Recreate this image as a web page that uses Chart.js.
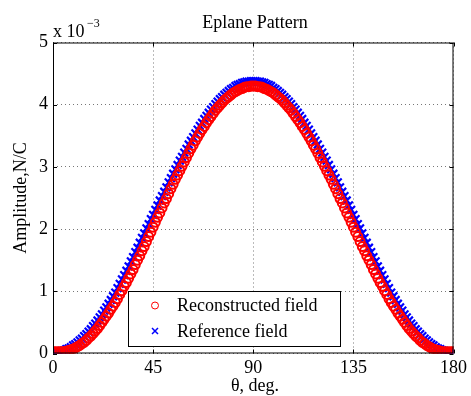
<!DOCTYPE html>
<html>
<head>
<meta charset="utf-8">
<script src="https://cdn.jsdelivr.net/npm/chart.js@4.4.1/dist/chart.umd.min.js"></script>
<style>
    html, body { margin: 0; padding: 0; background: #fff; }
    canvas { display: block; }
</style>
</head>
<body>
<canvas id="eplane-chart" width="471" height="396"></canvas>
<script>
// theta in degrees, amplitude in units of 10^-3 N/C
const THETA = [
    0,1,2,3,4,5,6,7,8,9,10,11,12,13,14,15,16,17,18,19,20,21,22,23,24,25,26,27,28,29,
    30,31,32,33,34,35,36,37,38,39,40,41,42,43,44,45,46,47,48,49,50,51,52,53,54,55,56,57,58,59,
    60,61,62,63,64,65,66,67,68,69,70,71,72,73,74,75,76,77,78,79,80,81,82,83,84,85,86,87,88,89,
    90,91,92,93,94,95,96,97,98,99,100,101,102,103,104,105,106,107,108,109,110,111,112,113,114,115,116,117,118,119,
    120,121,122,123,124,125,126,127,128,129,130,131,132,133,134,135,136,137,138,139,140,141,142,143,144,145,146,147,148,149,
    150,151,152,153,154,155,156,157,158,159,160,161,162,163,164,165,166,167,168,169,170,171,172,173,174,175,176,177,178,179,180
];

const RECONSTRUCTED = [
    0.03,0.03,0.03,0.03,0.03,0.03,0.04,0.05,0.06,0.07,
    0.09,0.11,0.13,0.16,0.18,0.21,0.25,0.28,0.32,0.36,
    0.40,0.45,0.50,0.55,0.60,0.65,0.71,0.76,0.82,0.88,
    0.95,1.01,1.08,1.14,1.21,1.28,1.35,1.43,1.50,1.57,
    1.65,1.72,1.80,1.88,1.95,2.03,2.11,2.19,2.26,2.34,
    2.42,2.49,2.57,2.65,2.72,2.80,2.87,2.94,3.01,3.08,
    3.15,3.22,3.29,3.35,3.42,3.48,3.54,3.60,3.65,3.71,
    3.76,3.81,3.86,3.91,3.95,3.99,4.03,4.07,4.10,4.13,
    4.16,4.19,4.21,4.23,4.25,4.26,4.28,4.29,4.29,4.30,
    4.30,
    4.30,4.29,4.29,4.28,4.26,4.25,4.23,4.21,4.19,4.16,
    4.13,4.10,4.07,4.03,3.99,3.95,3.91,3.86,3.81,3.76,
    3.71,3.65,3.60,3.54,3.48,3.42,3.35,3.29,3.22,3.15,
    3.08,3.01,2.94,2.87,2.80,2.72,2.65,2.57,2.49,2.42,
    2.34,2.26,2.19,2.11,2.03,1.95,1.88,1.80,1.72,1.65,
    1.57,1.50,1.43,1.35,1.28,1.21,1.14,1.08,1.01,0.95,
    0.88,0.82,0.76,0.71,0.65,0.60,0.55,0.50,0.45,0.40,
    0.36,0.32,0.28,0.25,0.21,0.18,0.16,0.13,0.11,0.09,
    0.07,0.06,0.05,0.04,0.03,0.03,0.03,0.03,0.03,0.03
];

const REFERENCE = [
    0.02,0.02,0.03,0.03,0.04,0.05,0.07,0.08,0.10,0.13,
    0.15,0.18,0.21,0.24,0.28,0.31,0.35,0.39,0.44,0.48,
    0.53,0.58,0.63,0.69,0.74,0.80,0.86,0.92,0.98,1.05,
    1.12,1.19,1.26,1.33,1.40,1.48,1.55,1.63,1.70,1.78,
    1.86,1.93,2.01,2.08,2.16,2.23,2.31,2.38,2.46,2.53,
    2.60,2.67,2.75,2.82,2.89,2.96,3.03,3.10,3.16,3.23,
    3.29,3.36,3.42,3.48,3.54,3.60,3.66,3.71,3.77,3.82,
    3.87,3.92,3.96,4.01,4.05,4.09,4.12,4.16,4.19,4.22,
    4.25,4.27,4.30,4.32,4.33,4.35,4.36,4.37,4.37,4.38,
    4.38,
    4.38,4.37,4.37,4.36,4.35,4.33,4.32,4.30,4.27,4.25,
    4.22,4.19,4.16,4.12,4.09,4.05,4.01,3.96,3.92,3.87,
    3.82,3.77,3.71,3.66,3.60,3.54,3.48,3.42,3.36,3.29,
    3.23,3.16,3.10,3.03,2.96,2.89,2.82,2.75,2.67,2.60,
    2.53,2.46,2.38,2.31,2.23,2.16,2.08,2.01,1.93,1.86,
    1.78,1.70,1.63,1.55,1.48,1.40,1.33,1.26,1.19,1.12,
    1.05,0.98,0.92,0.86,0.80,0.74,0.69,0.63,0.58,0.53,
    0.48,0.44,0.39,0.35,0.31,0.28,0.24,0.21,0.18,0.15,
    0.13,0.10,0.08,0.07,0.05,0.04,0.03,0.03,0.02,0.02
];

const X_TICKS = [0, 45, 90, 135, 180];
const Y_TICKS = [0, 1, 2, 3, 4, 5];

const FONT = '"Liberation Serif", "Times New Roman", serif';

Chart.defaults.font.family = FONT;
Chart.defaults.font.size = 18;
Chart.defaults.color = '#000';

// MATLAB style extras: boxed axes, inward ticks, texts, legend inside the axes
const matlabLook = {
    id: 'matlabLook',
    afterDraw(chart) {
        const { ctx, chartArea: a, scales } = chart;
        ctx.save();

        ctx.strokeStyle = '#000';
        ctx.lineWidth = 1;
        ctx.strokeRect(a.left + 0.5, a.top + 0.5, a.right - a.left - 1, a.bottom - a.top - 1);

        const tl = 4;
        ctx.beginPath();
        X_TICKS.forEach(v => {
            const x = Math.round(scales.x.getPixelForValue(v)) + 0.5;
            ctx.moveTo(x, a.bottom); ctx.lineTo(x, a.bottom - tl);
            ctx.moveTo(x, a.top); ctx.lineTo(x, a.top + tl);
        });
        Y_TICKS.forEach(v => {
            const y = Math.round(scales.y.getPixelForValue(v)) + 0.5;
            ctx.moveTo(a.left, y); ctx.lineTo(a.left + tl, y);
            ctx.moveTo(a.right, y); ctx.lineTo(a.right - tl, y);
        });
        ctx.stroke();

        ctx.fillStyle = '#000';
        ctx.textBaseline = 'alphabetic';

        ctx.font = '18px ' + FONT;
        ctx.textAlign = 'center';
        ctx.fillText('Eplane Pattern', 255, 28);
        ctx.fillText('θ, deg.', 255, 391);

        ctx.textAlign = 'left';
        ctx.fillText('x 10', 53, 37);
        ctx.font = '12px ' + FONT;
        ctx.fillText('\u22123', 87, 27);

        ctx.save();
        ctx.font = '18px ' + FONT;
        ctx.translate(26, (a.top + a.bottom) / 2);
        ctx.rotate(-Math.PI / 2);
        ctx.textAlign = 'center';
        ctx.fillText('Amplitude,N/C', 0, 0);
        ctx.restore();

        // legend
        const box = { x: 128.5, y: 291.5, w: 212, h: 55 };
        ctx.fillStyle = '#fff';
        ctx.fillRect(box.x, box.y, box.w, box.h);
        ctx.strokeStyle = '#000';
        ctx.lineWidth = 1;
        ctx.strokeRect(box.x, box.y, box.w, box.h);
        const rows = [305.5, 331];
        chart.data.datasets.forEach((ds, i) => {
            const y = rows[i];
            ctx.strokeStyle = ds.borderColor;
            ctx.lineWidth = ds.pointStyle === 'circle' ? 1 : 1.5;
            ctx.beginPath();
            if (ds.pointStyle === 'circle') {
                ctx.arc(155, y, 3.5, 0, Math.PI * 2);
            } else {
                const r = 3;
                ctx.moveTo(155 - r, y - r); ctx.lineTo(155 + r, y + r);
                ctx.moveTo(155 - r, y + r); ctx.lineTo(155 + r, y - r);
            }
            ctx.stroke();
            ctx.fillStyle = '#000';
            ctx.font = '18px ' + FONT;
            ctx.textAlign = 'left';
            ctx.textBaseline = 'middle';
            ctx.fillText(ds.label, 177, y + 1);
        });

        ctx.restore();
    }
};

const toPoints = values => THETA.map((t, i) => ({ x: t, y: values[i] }));

new Chart(document.getElementById('eplane-chart'), {
    type: 'scatter',
    data: {
        datasets: [
            {
                label: 'Reconstructed field',
                data: toPoints(RECONSTRUCTED),
                pointStyle: 'circle',
                pointRadius: 4.5,
                borderWidth: 2,
                borderColor: '#ff0000',
                backgroundColor: 'rgba(0,0,0,0)',
            },
            {
                label: 'Reference field',
                data: toPoints(REFERENCE),
                pointStyle: 'crossRot',
                pointRadius: 5.5,
                borderWidth: 2.2,
                borderColor: '#0000ff',
                backgroundColor: '#0000ff',
            },
        ]
    },
    options: {
        responsive: false,
        animation: false,
        devicePixelRatio: 1,
        layout: { padding: { top: 42.5, right: 14.5, left: 0, bottom: 0 } },
        plugins: { legend: { display: false }, tooltip: { enabled: false } },
        scales: {
            x: {
                type: 'linear',
                min: 0, max: 180,
                afterBuildTicks: s => { s.ticks = X_TICKS.map(v => ({ value: v })); },
                afterFit: s => { s.height = 42.5; },
                ticks: { padding: 4, maxRotation: 0, font: { size: 18 } },
                grid: { drawTicks: false, color: '#777', lineWidth: 1 },
                border: { display: false, dash: [1, 3] },
            },
            y: {
                min: 0, max: 5,
                afterBuildTicks: s => { s.ticks = Y_TICKS.map(v => ({ value: v })); },
                afterFit: s => { s.width = 53; },
                ticks: { padding: 5, font: { size: 18 } },
                grid: { drawTicks: false, color: '#777', lineWidth: 1 },
                border: { display: false, dash: [1, 3] },
            }
        }
    },
    plugins: [matlabLook]
});
</script>
</body>
</html>
